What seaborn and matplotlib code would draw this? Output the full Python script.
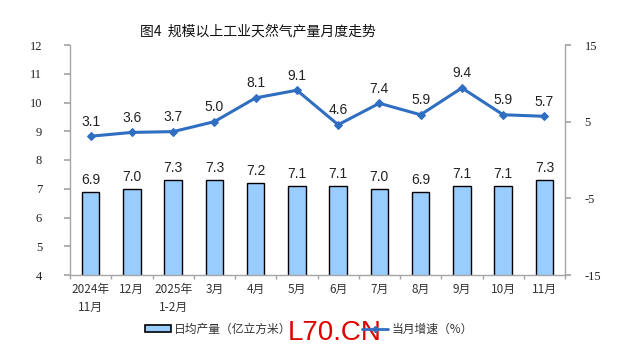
import numpy as np
import pandas as pd
import matplotlib
matplotlib.use("Agg")
import matplotlib.pyplot as plt
import seaborn as sns

categories = ["2024年\n11月", "12月", "2025年\n1-2月", "3月", "4月", "5月",
              "6月", "7月", "8月", "9月", "10月", "11月"]
daily_output = [6.9, 7.0, 7.3, 7.3, 7.2, 7.1, 7.1, 7.0, 6.9, 7.1, 7.1, 7.3]
growth_rate = [3.1, 3.6, 3.7, 5.0, 8.1, 9.1, 4.6, 7.4, 5.9, 9.4, 5.9, 5.7]
left_ticks = [4, 5, 6, 7, 8, 9, 10, 11, 12]
right_ticks = [-15, -5, 5, 15]

sns.set_theme(style="white")
plt.rcParams['font.family'] = ['Noto Sans CJK SC', 'DejaVu Sans']

df = pd.DataFrame({"cat": categories, "out": daily_output, "rate": growth_rate,
                   "idx": np.arange(len(categories))})

fig = plt.figure(figsize=(6.39, 3.56), dpi=100)
ax = fig.add_axes([70/639, 1-275/356, 495/639, 230/356])

bar_color = "#99CCFF"
line_color = "#2F6EC0"
spine_color = "#A6A6A6"

sns.barplot(data=df, x="cat", y="out", ax=ax, color=bar_color, width=0.42,
            edgecolor="black", linewidth=1.0, saturation=1)
ax.set_ylim(4, 12)
ax.set_xlim(-0.5, len(categories) - 0.5)
ax.set_yticks(left_ticks)
ax.set_yticklabels([str(t) for t in left_ticks], family="Liberation Serif",
                   fontsize=9, color="#222222")
ax.set_xticks(np.arange(len(categories)))
ax.set_xticklabels(categories, fontsize=8.5, color="#333333", linespacing=1.45)
ax.set_xticks(np.arange(len(categories) + 1) - 0.5, minor=True)
ax.tick_params(axis="x", which="major", length=0, pad=6)
ax.tick_params(axis="x", which="minor", length=3, color=spine_color, direction="out", bottom=True)
ax.tick_params(axis="y", which="major", length=4, color=spine_color, direction="out", left=True, pad=16)
ax.set_xlabel("")
ax.set_ylabel("")
for s in ["top", "right"]:
    ax.spines[s].set_visible(False)
for s in ["left", "bottom"]:
    ax.spines[s].set_color(spine_color)
    ax.spines[s].set_linewidth(1.0)

for i, v in enumerate(daily_output):
    ax.annotate(f"{v:.1f}", (i, v), xytext=(0, 3.5), textcoords="offset points",
                ha="center", va="bottom", fontsize=10, color="#222222",
                family=["Liberation Sans", "DejaVu Sans"])

ax2 = ax.twinx()
sns.lineplot(data=df, x="idx", y="rate", ax=ax2, color=line_color, linewidth=2.2,
             marker="D", markersize=4.5, markeredgecolor=line_color)
ax2.set_ylim(-15, 15)
ax2.set_yticks(right_ticks)
ax2.set_yticklabels([str(t) for t in right_ticks], family="Liberation Serif",
                    fontsize=9, color="#222222")
ax2.tick_params(axis="y", which="major", length=4, color=spine_color, direction="out", right=True, pad=10)
ax2.set_ylabel("")
ax2.set_xlabel("")
for s in ["top", "left", "bottom"]:
    ax2.spines[s].set_visible(False)
ax2.spines["right"].set_color(spine_color)
ax2.spines["right"].set_linewidth(1.0)

for i, v in enumerate(growth_rate):
    ax2.annotate(f"{v:.1f}", (i, v), xytext=(0, 5.5), textcoords="offset points",
                 ha="center", va="bottom", fontsize=10, color="#222222",
                 family=["Liberation Sans", "DejaVu Sans"])

fig.text(258/639, 1-31/356, "图4  规模以上工业天然气产量月度走势", ha="center", va="center",
         fontsize=10, color="#111111")

from matplotlib.patches import Patch
from matplotlib.lines import Line2D
handles = [Patch(facecolor=bar_color, edgecolor="black", linewidth=1.2),
           Line2D([0], [0], color=line_color, linewidth=2, marker="D", markersize=3)]
leg = fig.legend(handles, ["日均产量（亿立方米）", "当月增速（%）"], loc="center",
                 bbox_to_anchor=(309/639, 1-329/356), ncol=2, frameon=False,
                 fontsize=8.5, handlelength=2.2, handleheight=0.6, columnspacing=6.0,
                 handletextpad=0.3)
for t in leg.get_texts():
    t.set_color("#333333")

fig.text(288/639, 1-333/356, "L70.CN", ha="left", va="center", fontsize=20,
         color="#E00000", family=["Liberation Sans", "DejaVu Sans"])

fig.savefig("out.png", dpi=100, facecolor="white")
